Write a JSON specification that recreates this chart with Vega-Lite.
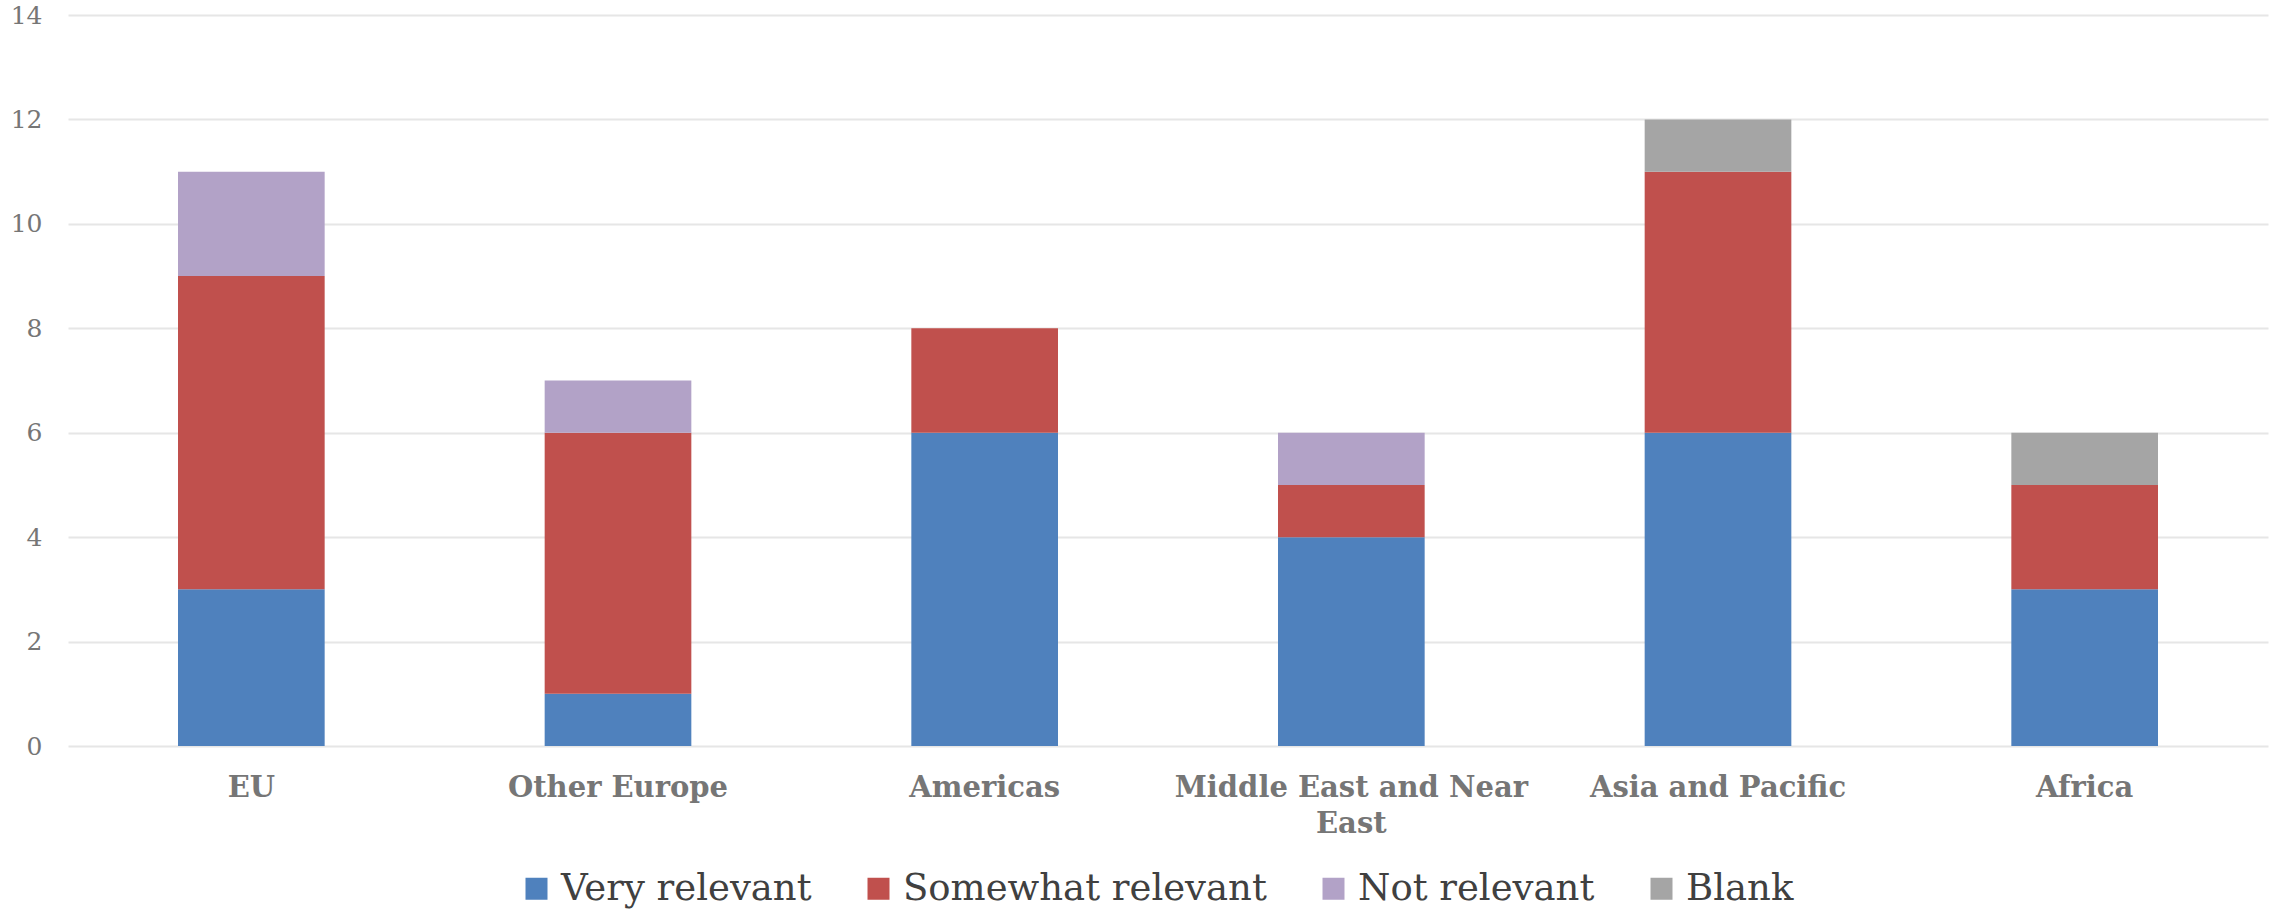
{
  "$schema": "https://vega.github.io/schema/vega-lite/v6.json",
  "autosize": {"type": "none"},
  "width": 2200,
  "height": 731,
  "padding": {"left": 68, "top": 15, "right": 9, "bottom": 164},
  "background": "white",
  "config": {"view": {"stroke": null}},
  "data": {
    "values": [
      {"region": "EU", "response": "Very relevant", "count": 3},
      {"region": "EU", "response": "Somewhat relevant", "count": 6},
      {"region": "EU", "response": "Not relevant", "count": 2},
      {"region": "Other Europe", "response": "Very relevant", "count": 1},
      {"region": "Other Europe", "response": "Somewhat relevant", "count": 5},
      {"region": "Other Europe", "response": "Not relevant", "count": 1},
      {"region": "Americas", "response": "Very relevant", "count": 6},
      {"region": "Americas", "response": "Somewhat relevant", "count": 2},
      {"region": "Middle East and Near East", "response": "Very relevant", "count": 4},
      {"region": "Middle East and Near East", "response": "Somewhat relevant", "count": 1},
      {"region": "Middle East and Near East", "response": "Not relevant", "count": 1},
      {"region": "Asia and Pacific", "response": "Very relevant", "count": 6},
      {"region": "Asia and Pacific", "response": "Somewhat relevant", "count": 5},
      {"region": "Asia and Pacific", "response": "Blank", "count": 1},
      {"region": "Africa", "response": "Very relevant", "count": 3},
      {"region": "Africa", "response": "Somewhat relevant", "count": 2},
      {"region": "Africa", "response": "Blank", "count": 1}
    ]
  },
  "mark": {"type": "bar"},
  "encoding": {
    "x": {
      "field": "region",
      "type": "nominal",
      "sort": ["EU", "Other Europe", "Americas", "Middle East and Near East", "Asia and Pacific", "Africa"],
      "scale": {"paddingInner": 0.6, "paddingOuter": 0.3},
      "axis": {
        "title": null,
        "labelAngle": 0,
        "domain": false,
        "ticks": false,
        "labelPadding": 27,
        "labelFont": "DejaVu Serif",
        "labelFontWeight": "bold",
        "labelFontSize": 29,
        "labelColor": "#767676",
        "labelLineHeight": 36,
        "labelLimit": 0,
        "labelExpr": "datum.label == 'Middle East and Near East' ? ['Middle East and Near', 'East'] : datum.label"
      }
    },
    "y": {
      "field": "count",
      "type": "quantitative",
      "stack": "zero",
      "scale": {"domain": [0, 14]},
      "axis": {
        "title": null,
        "values": [0, 2, 4, 6, 8, 10, 12, 14],
        "domain": false,
        "ticks": false,
        "labelPadding": 26,
        "labelFont": "DejaVu Serif",
        "labelFontSize": 25,
        "labelColor": "#767676",
        "gridColor": "#E6E6E6",
        "gridWidth": 2
      }
    },
    "color": {
      "field": "response",
      "type": "nominal",
      "sort": ["Very relevant", "Somewhat relevant", "Not relevant", "Blank"],
      "scale": {
        "domain": ["Very relevant", "Somewhat relevant", "Not relevant", "Blank"],
        "range": ["#4F81BD", "#C0504D", "#B2A2C7", "#A5A5A5"]
      },
      "legend": {
        "title": null,
        "orient": "none",
        "direction": "horizontal",
        "legendX": 450,
        "legendY": 855,
        "symbolType": "square",
        "symbolSize": 484,
        "symbolStrokeWidth": 0,
        "labelFont": "DejaVu Serif",
        "labelFontSize": 37,
        "labelColor": "#404040",
        "labelOffset": 6,
        "columnPadding": 48,
        "labelLimit": 0
      }
    }
  }
}
